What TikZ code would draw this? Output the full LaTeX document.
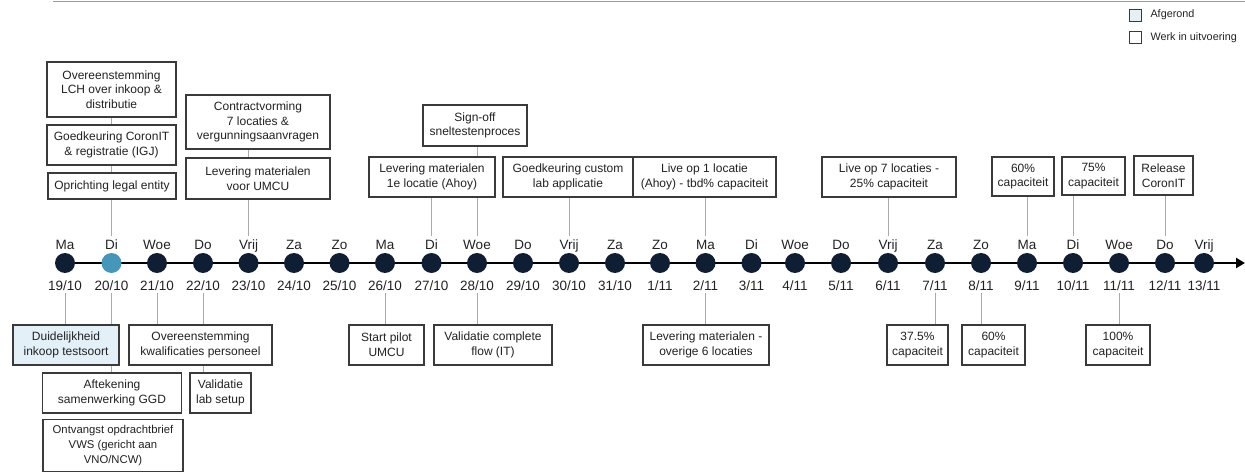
\documentclass[tikz,border=0pt]{standalone}
\usepackage{fontspec}
\setmainfont{Liberation Sans}
\usetikzlibrary{arrows.meta,backgrounds}
\definecolor{navy}{HTML}{0F1E33}
\definecolor{dotblue}{HTML}{4596B8}
\definecolor{donefill}{HTML}{E3F0F8}
\definecolor{boxline}{HTML}{3A3A3A}
\definecolor{conn}{HTML}{AAAAAA}
\definecolor{txt}{HTML}{222222}
\definecolor{rulegray}{HTML}{999999}
\begin{document}
\begin{tikzpicture}[x=1pt,y=-1pt,
 box/.style={draw=boxline, line width=1.1pt, fill=white, align=center, inner sep=0pt, text=txt, font=\fontsize{12}{14.7}\selectfont},
 done/.style={box, fill=donefill},
 dot/.style={circle, minimum size=20pt, inner sep=0pt},
 daylbl/.style={anchor=base, font=\fontsize{13.5}{16}\selectfont, text=txt},
 conline/.style={draw=conn, line width=0.8pt},
 legtext/.style={anchor=west, font=\fontsize{10.8}{13}\selectfont, text=txt},
 legbox/.style={draw=boxline, line width=0.8pt, minimum size=12pt, inner sep=0pt}
]
\useasboundingbox (0,0) rectangle (1245,473);

% top rule
\coordinate (r1) at (53,1.5);
\coordinate (r2) at (1245,1.5);
\draw[rulegray, line width=0.8pt] (r1) -- (r2);

% legend
\node[legbox, fill=donefill] (lg1) at (1135,15) {};
\node[legtext] (lgt1) at (1147,15) {Afgerond};
\node[legbox, fill=white] (lg2) at (1135,37.5) {};
\node[legtext] (lgt2) at (1147,37.5) {Werk in uitvoering};

% timeline
\coordinate (tlstart) at (60,263);
\coordinate (tlend) at (1245,263);
\draw[black, line width=2.6pt, -{Triangle[length=9pt,width=10pt]}] (tlstart) -- (tlend);

\foreach \x/\d/\dd/\mm/\c [count=\i] in {
 65/Ma/19/10/navy, 111.5/Di/20/10/dotblue, 157/Woe/21/10/navy, 203/Do/22/10/navy,
 248.5/Vrij/23/10/navy, 294/Za/24/10/navy, 339.5/Zo/25/10/navy, 385/Ma/26/10/navy,
 431.5/Di/27/10/navy, 477/Woe/28/10/navy, 523/Do/29/10/navy, 569/Vrij/30/10/navy,
 615/Za/31/10/navy, 660/Zo/1/11/navy, 705.5/Ma/2/11/navy, 751.5/Di/3/11/navy,
 795/Woe/4/11/navy, 841/Do/5/11/navy, 888/Vrij/6/11/navy, 935/Za/7/11/navy,
 981/Zo/8/11/navy, 1027/Ma/9/11/navy, 1073/Di/10/11/navy, 1119/Woe/11/11/navy,
 1165/Do/12/11/navy, 1204/Vrij/13/11/navy}{
  \node[dot, fill=\c] (c\i) at (\x,263) {};
  \node[daylbl] (d\i) at (\x,250) {\d};
  \node[daylbl] (m\i) at (\x,290) {\dd/\mm};
  \coordinate (u\i) at (\x,236);
  \coordinate (l\i) at (\x,293);
}

% top boxes
\node[box, minimum width=129pt, minimum height=55pt] (t1) at (111.5,89.5) {Overeenstemming\\LCH over inkoop \&\\distributie};
\node[box, minimum width=129pt, minimum height=40pt] (t2) at (111.5,145) {Goedkeuring CoronIT\\\& registratie (IGJ)};
\node[box, minimum width=128pt, minimum height=26pt] (t3) at (112,186) {Oprichting legal entity};
\node[box, minimum width=144pt, minimum height=54pt] (t4) at (258,122) {Contractvorming\\7 locaties \&\\vergunningsaanvragen};
\node[box, minimum width=144pt, minimum height=41pt] (t5) at (258,178.5) {Levering materialen\\voor UMCU};
\node[box, minimum width=104pt, minimum height=41pt] (t6) at (475,125.5) {Sign-off\\sneltestenproces};
\node[box, minimum width=126pt, minimum height=40pt] (t7) at (432,177) {Levering materialen\\1e locatie (Ahoy)};
\node[box, minimum width=130pt, minimum height=40pt] (t8) at (568,177) {Goedkeuring custom\\lab applicatie};
\node[box, minimum width=143pt, minimum height=40pt] (t9) at (704.5,177) {Live op 1 locatie\\(Ahoy) - tbd\% capaciteit};
\node[box, minimum width=134pt, minimum height=40pt] (t10) at (889,177) {Live op 7 locaties -\\25\% capaciteit};
\node[box, minimum width=62pt, minimum height=39pt] (t11) at (1023,176.5) {60\%\\capaciteit};
\node[box, minimum width=63pt, minimum height=38pt] (t12) at (1093.5,176) {75\%\\capaciteit};
\node[box, minimum width=59pt, minimum height=39pt] (t13) at (1163.5,175.5) {Release\\CoronIT};

% bottom boxes
\node[done, minimum width=106pt, minimum height=40pt] (b1) at (66,345) {Duidelijkheid\\inkoop testsoort};
\node[box, minimum width=139pt, minimum height=40pt] (b2) at (112,393) {Aftekening\\samenwerking GGD};
\node[box, minimum width=140pt, minimum height=52pt, font=\fontsize{11.3}{14.7}\selectfont] (b3) at (113,445.5) {Ontvangst opdrachtbrief\\VWS (gericht aan\\VNO/NCW)};
\node[box, minimum width=143pt, minimum height=40pt] (b4) at (200.5,345) {Overeenstemming\\kwalificaties personeel};
\node[box, minimum width=61pt, minimum height=40pt] (b5) at (220.5,393) {Validatie\\lab setup};
\node[box, minimum width=75pt, minimum height=40pt] (b6) at (386.5,345) {Start pilot\\UMCU};
\node[box, minimum width=118pt, minimum height=40pt] (b7) at (493,345) {Validatie complete\\flow (IT)};
\node[box, minimum width=126pt, minimum height=40pt] (b8) at (706,345) {Levering materialen -\\overige 6 locaties};
\node[box, minimum width=61pt, minimum height=40pt] (b9) at (917.5,345) {37.5\%\\capaciteit};
\node[box, minimum width=63pt, minimum height=40pt] (b10) at (993.5,345) {60\%\\capaciteit};
\node[box, minimum width=64pt, minimum height=40pt] (b11) at (1118,345) {100\%\\capaciteit};

% connectors
\begin{scope}[on background layer]
 \draw[conline] (t1.south -| u2) -- (u2);
 \draw[conline] (t4.south -| u5) -- (u5);
 \draw[conline] (t6.south -| u10) -- (u10);
 \draw[conline] (t7.south -| u9) -- (u9);
 \draw[conline] (t8.south -| u12) -- (u12);
 \draw[conline] (t9.south -| u15) -- (u15);
 \draw[conline] (t10.south -| u19) -- (u19);
 \draw[conline] (t11.south -| u22) -- (u22);
 \draw[conline] (t12.south -| u23) -- (u23);
 \draw[conline] (t13.south -| u25) -- (u25);
 \draw[conline] (l1) -- (b1.north -| l1);
 \draw[conline] (l2) -- (b2.north -| l2);
 \draw[conline] (l3) -- (b4.north -| l3);
 \draw[conline] (l4) -- (b5.north -| l4);
 \draw[conline] (l8) -- (b6.north -| l8);
 \draw[conline] (l10) -- (b7.north -| l10);
 \draw[conline] (l15) -- (b8.north -| l15);
 \draw[conline] (l20) -- (b9.north -| l20);
 \draw[conline] (l21) -- (b10.north -| l21);
 \draw[conline] (l24) -- (b11.north -| l24);
\end{scope}
\end{tikzpicture}
\end{document}
